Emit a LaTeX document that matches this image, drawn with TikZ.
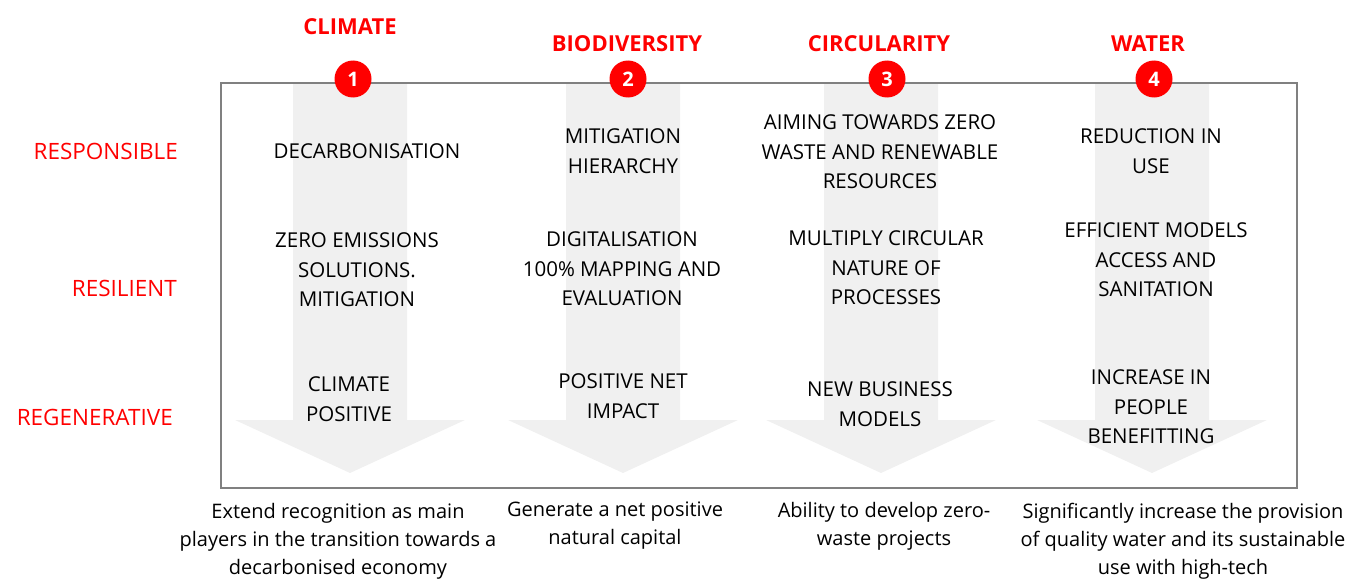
\documentclass[tikz,border=0pt]{standalone}
\usepackage{fontspec}
\setmainfont{Open Sans}
\usetikzlibrary{positioning}
\definecolor{brandRed}{RGB}{255,0,0}
\definecolor{pillarGrey}{RGB}{240,240,240}
\definecolor{frameGrey}{RGB}{128,128,128}
\tikzset{
  pillar/.style={fill=pillarGrey,draw=none},
  cell/.style={align=center,inner sep=0pt,font=\fontsize{20.5}{29.5}\selectfont},
  level/.style={anchor=east,inner sep=0pt,text=brandRed,font=\fontsize{22.5}{27}\selectfont},
  theme/.style={inner sep=0pt,text=brandRed,font=\bfseries\fontsize{22}{26}\selectfont},
  badge/.style={circle,fill=brandRed,text=white,minimum size=37pt,inner sep=0pt,font=\bfseries\fontsize{20}{20}\selectfont},
  goal/.style={anchor=north,align=center,inner sep=0pt,font=\fontsize{20}{28}\selectfont}
}
\begin{document}
\begin{tikzpicture}[x=1pt,y=-1pt]
\useasboundingbox (0,0) rectangle (1348,578);
% grey block arrows
\foreach \cx in {350,623,881,1152}{
  \fill[pillar] ({\cx-57},83) -- ({\cx+57},83) -- ({\cx+57},420) -- ({\cx+115},420)
    -- (\cx,473) -- ({\cx-115},420) -- ({\cx-57},420) -- cycle;
}
\draw[frameGrey,line width=2pt] (221,83) rectangle (1297,488);
% themes and badges
\node[theme] (climate) at (350,27) {CLIMATE};
\node[theme] (biodiv) at (627,44) {BIODIVERSITY};
\node[theme] (circ) at (879,44) {CIRCULARITY};
\node[theme] (water) at (1148,44) {WATER};
\foreach \n/\bx in {1/353,2/628,3/887,4/1154}
  \node[badge] (badge\n) at (\bx,79) {\n};
% levels
\node[level] (resp) at (178,151) {RESPONSIBLE};
\node[level] (resil) at (177,288) {RESILIENT};
\node[level] (regen) at (173,417) {REGENERATIVE};
% climate column
\node[cell] (c1a) at (367,151) {DECARBONISATION};
\node[cell] (c1b) at (357,270) {ZERO EMISSIONS\\SOLUTIONS.\\MITIGATION};
\node[cell] (c1c) at (349,399) {CLIMATE\\POSITIVE};
% biodiversity column
\node[cell] (c2a) at (623,151) {MITIGATION\\HIERARCHY};
\node[cell] (c2b) at (622,269) {DIGITALISATION\\100\% MAPPING AND\\EVALUATION};
\node[cell] (c2c) at (623,396) {POSITIVE NET\\IMPACT};
% circularity column
\node[cell] (c3a) at (880,152) {AIMING TOWARDS ZERO\\WASTE AND RENEWABLE\\RESOURCES};
\node[cell] (c3b) at (886,268) {MULTIPLY CIRCULAR\\NATURE OF\\PROCESSES};
\node[cell] (c3c) at (880,404) {NEW BUSINESS\\MODELS};
% water column
\node[cell] (c4a) at (1151,151) {REDUCTION IN\\USE};
\node[cell] (c4b) at (1156,260) {EFFICIENT MODELS\\ACCESS AND\\SANITATION};
\node[cell] (c4c) at (1151,407) {INCREASE IN\\PEOPLE\\BENEFITTING};
% goals below the frame
\node[goal] (g1) at (338,503) {Extend recognition as main\\players in the transition towards a\\decarbonised economy};
\node[goal] (g2) at (615,502) {Generate a net positive\\natural capital};
\node[goal] (g3) at (884,502) {Ability to develop zero-\\waste projects};
\node[goal] (g4) at (1183,503) {Significantly increase the provision\\of quality water and its sustainable\\use with high-tech};
\end{tikzpicture}
\end{document}
